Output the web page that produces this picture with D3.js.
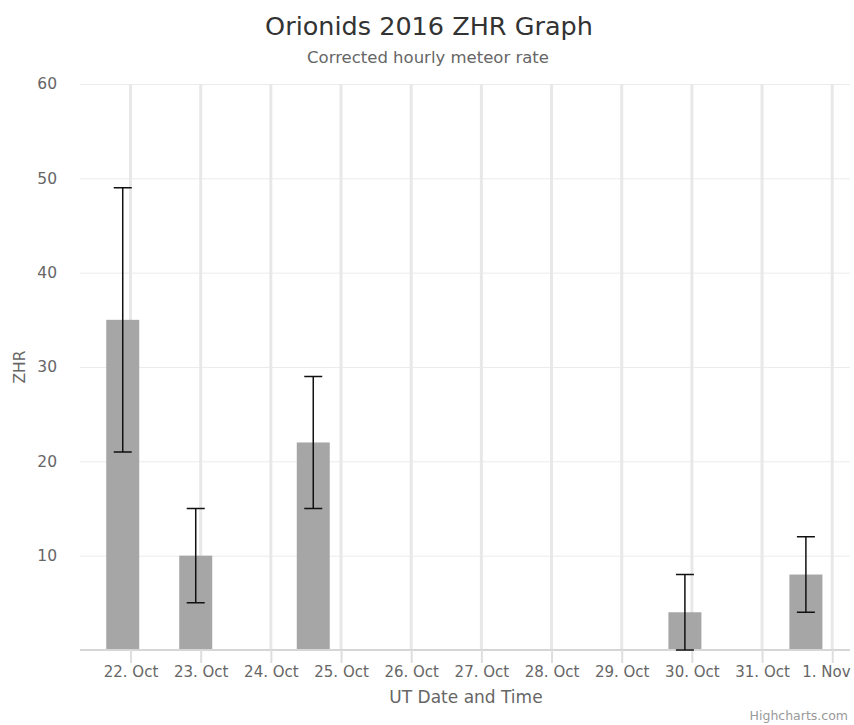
<!DOCTYPE html>
<html>
<head>
<meta charset="utf-8">
<script src="https://cdn.jsdelivr.net/npm/d3@7"></script>
<style>
  html, body { margin: 0; padding: 0; background: #fff; }
  svg { display: block; font-family: "DejaVu Sans", Verdana, sans-serif; }
</style>
</head>
<body>
<svg id="chart" width="854" height="725"></svg>
<script>
// Observation times (UT) and corrected hourly rates with their error ranges
const obsTimes = ["2016-10-21T21:20:00Z", "2016-10-22T22:18:00Z", "2016-10-24T14:30:00Z", "2016-10-29T21:37:00Z", "2016-10-31T15:00:00Z"];
const zhr      = [35, 10, 22, 4, 8];
const zhrLow   = [21, 5, 15, 0, 4];
const zhrHigh  = [49, 15, 29, 8, 12];

const yTicks = [10, 20, 30, 40, 50, 60];
const xTickDates = ["2016-10-22", "2016-10-23", "2016-10-24", "2016-10-25", "2016-10-26", "2016-10-27",
                    "2016-10-28", "2016-10-29", "2016-10-30", "2016-10-31", "2016-11-01"];
const xDomain = ["2016-10-21T06:43:00Z", "2016-11-01T06:05:00Z"];

const W = 854, H = 725;
const plot = { left: 80, right: 850, top: 84, bottom: 650 };
const barWidth = 33, whisker = 18;

const svg = d3.select("#chart");

const x = d3.scaleUtc().domain(xDomain.map(d => new Date(d))).range([plot.left, plot.right]);
const y = d3.scaleLinear().domain([0, 60]).range([plot.bottom, plot.top]);

// Titles
svg.append("text").attr("x", 429).attr("y", 35).attr("text-anchor", "middle")
  .attr("fill", "#333").attr("font-size", 25.5).text("Orionids 2016 ZHR Graph");
svg.append("text").attr("x", 428).attr("y", 63).attr("text-anchor", "middle")
  .attr("fill", "#666").attr("font-size", 16.5).text("Corrected hourly meteor rate");

// Horizontal grid
const grid = svg.append("g");
grid.selectAll("line.h").data(yTicks).join("line").attr("class", "h")
  .attr("x1", plot.left).attr("x2", plot.right)
  .attr("y1", d => y(d) + 0.5).attr("y2", d => y(d) + 0.5)
  .attr("stroke", "#ebebeb").attr("stroke-width", 1);

// Vertical day grid
const xTicks = xTickDates.map(d => new Date(d + "T00:00:00Z"));
grid.selectAll("line.v").data(xTicks).join("line").attr("class", "v")
  .attr("x1", d => x(d)).attr("x2", d => x(d))
  .attr("y1", plot.top).attr("y2", plot.bottom)
  .attr("stroke", "#e8e8e8").attr("stroke-width", 3);

// Y axis labels
const yAxis = d3.axisLeft(y).tickValues(yTicks).tickSize(0).tickPadding(23);
const gy = svg.append("g").attr("transform", `translate(${plot.left},0)`).call(yAxis);
gy.select(".domain").remove();
gy.selectAll("text").attr("fill", "#666").attr("font-size", 15.5).attr("font-family", "DejaVu Sans, sans-serif");

// Bars
const data = obsTimes.map((t, i) => ({ t: new Date(t), v: zhr[i], lo: zhrLow[i], hi: zhrHigh[i] }));
svg.append("g").selectAll("rect").data(data).join("rect")
  .attr("x", d => x(d.t) - barWidth / 2).attr("width", barWidth)
  .attr("y", d => y(d.v)).attr("height", d => y(0) - y(d.v))
  .attr("fill", "#a6a6a6");

// X axis
const xAxis = d3.axisBottom(x).tickValues(xTicks).tickSize(13).tickPadding(3)
  .tickFormat(d => d3.utcFormat("%-d. %b")(d));
const gx = svg.append("g").attr("transform", `translate(0,${plot.bottom})`).call(xAxis);
gx.select(".domain").attr("stroke", "#d6d6d6").attr("stroke-width", 2).attr("d", `M${plot.left},0H${plot.right}`);
gx.selectAll(".tick line").attr("stroke", "#dedede").attr("stroke-width", 2);
gx.selectAll("text").attr("fill", "#666").attr("font-size", 15).attr("font-family", "DejaVu Sans, sans-serif");
// keep the last label inside the chart edge
gx.selectAll(".tick").filter((d, i, n) => i === n.length - 1).select("text")
  .attr("text-anchor", "end").attr("x", 850 - x(xTicks[xTicks.length - 1]));

// Error bars
const eb = svg.append("g").attr("stroke", "#111").attr("stroke-width", 1.5).attr("fill", "none");
eb.selectAll("path").data(data).join("path")
  .attr("d", d => {
    const cx = x(d.t), yh = y(d.hi), yl = y(d.lo);
    return `M${cx},${yh}V${yl}M${cx - whisker / 2},${yh}H${cx + whisker / 2}M${cx - whisker / 2},${yl}H${cx + whisker / 2}`;
  });

// Axis titles
svg.append("text").attr("x", 466).attr("y", 703).attr("text-anchor", "middle")
  .attr("fill", "#666").attr("font-size", 17).text("UT Date and Time");
svg.append("text").attr("transform", `translate(25,${(plot.top + plot.bottom) / 2}) rotate(-90)`)
  .attr("text-anchor", "middle").attr("fill", "#666").attr("font-size", 15.5).text("ZHR");

// Credits
svg.append("text").attr("x", 848).attr("y", 720).attr("text-anchor", "end")
  .attr("fill", "#999").attr("font-size", 12.5).text("Highcharts.com");
</script>
</body>
</html>
